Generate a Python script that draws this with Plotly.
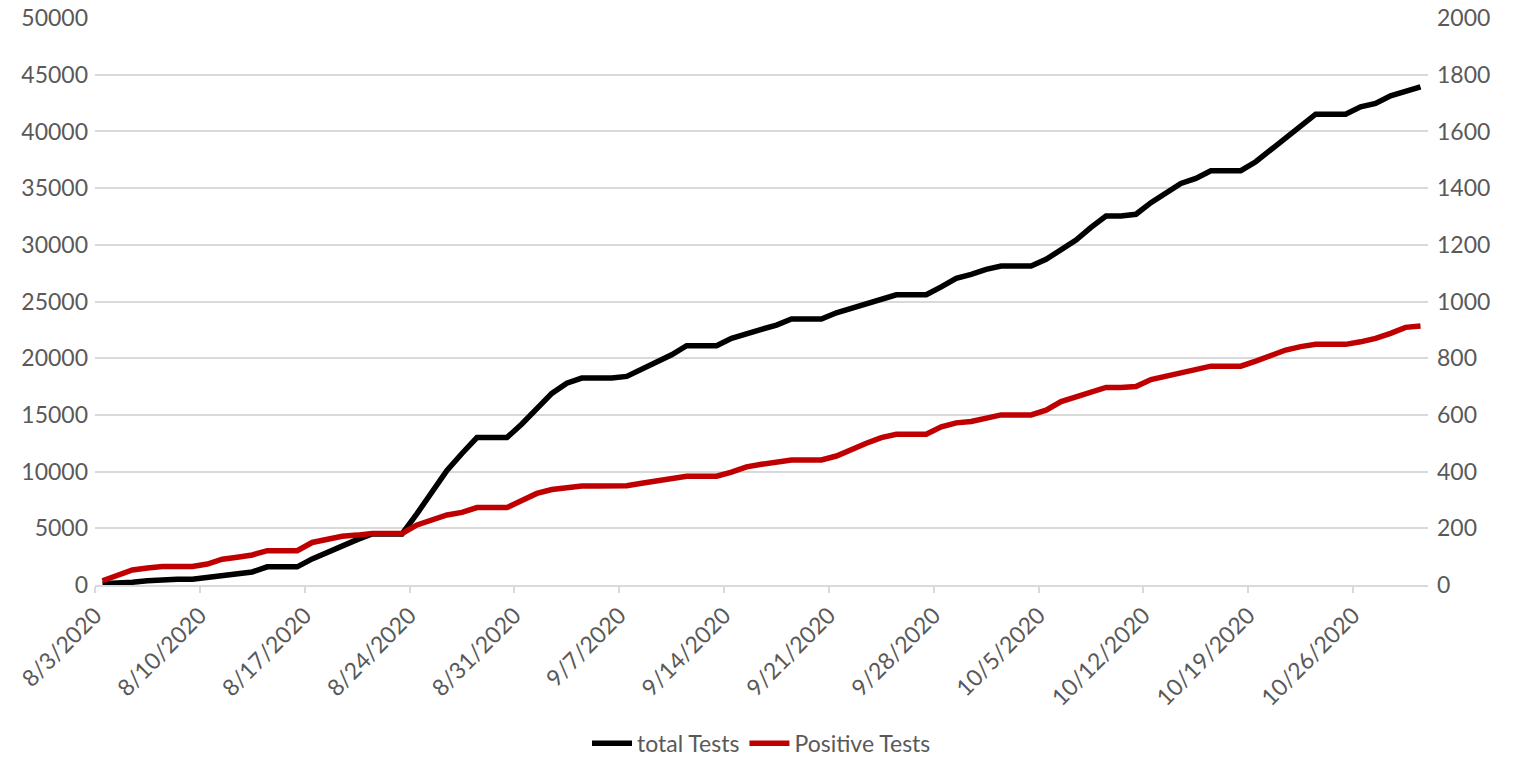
import pandas as pd
import plotly.graph_objects as go

start_date = "2020-08-03"
n_days = 89
dates = pd.date_range(start_date, periods=n_days, freq="D")

total_tests = [
    100, 150, 250, 380, 500, 500, 500,
    650, 800, 880, 1150, 1600, 1600, 1600,
    2300, 2900, 3500, 4000, 4500, 4500, 4500,
    6300, 8200, 10100, 11600, 13000, 13000, 13000,
    14200, 15600, 16900, 17800, 18250, 18250, 18250,
    18400, 19050, 19650, 20300, 21100, 21100, 21100,
    21750, 22100, 22550, 22930, 23460, 23460, 23460,
    24010, 24400, 24840, 25220, 25600, 25600, 25600,
    26300, 27050, 27400, 27840, 28130, 28130, 28130,
    28720, 29540, 30420, 31540, 32540, 32540, 32700,
    33720, 34520, 35420, 35860, 36540, 36540, 36540,
    37330, 38360, 39530, 40560, 41530, 41530, 41530,
    42180, 42470, 43150, 43560, 43940,
]

positive_tests = [
    15, 35, 53, 60, 65, 65, 65,
    74, 91, 98, 106, 121, 121, 121,
    150, 162, 172, 176, 182, 182, 182,
    212, 229, 247, 256, 273, 273, 273,
    298, 323, 337, 345, 349, 349, 349,
    350, 359, 367, 376, 384, 384, 384,
    398, 417, 426, 435, 441, 441, 441,
    455, 479, 500, 520, 532, 532, 532,
    558, 572, 577, 591, 600, 600, 600,
    617, 647, 664, 680, 697, 697, 700,
    725, 737, 750, 762, 772, 772, 772,
    790, 811, 829, 841, 849, 849, 849,
    858, 870, 888, 909, 914,
]

tick_dates = ["2020-08-03", "2020-08-10", "2020-08-17", "2020-08-24", "2020-08-31",
              "2020-09-07", "2020-09-14", "2020-09-21", "2020-09-28", "2020-10-05",
              "2020-10-12", "2020-10-19", "2020-10-26"]
tick_labels = ["8/3/2020", "8/10/2020", "8/17/2020", "8/24/2020", "8/31/2020",
               "9/7/2020", "9/14/2020", "9/21/2020", "9/28/2020", "10/5/2020",
               "10/12/2020", "10/19/2020", "10/26/2020"]
left_ticks = [0, 5000, 10000, 15000, 20000, 25000, 30000, 35000, 40000, 45000, 50000]
right_ticks = [0, 200, 400, 600, 800, 1000, 1200, 1400, 1600, 1800, 2000]

# points drawn in the middle of each day slot (Excel date axis style)
x_pts = dates + pd.Timedelta(hours=12)

FONT = "Lato"
GREY = "#595959"
GRID = "#d9d9d9"
FS = 23

fig = go.Figure()
fig.add_trace(go.Scatter(x=x_pts, y=total_tests, name="total Tests", mode="lines",
                         line=dict(color="#000000", width=5.5), yaxis="y"))
fig.add_trace(go.Scatter(x=x_pts, y=positive_tests, name="Positive Tests", mode="lines",
                         line=dict(color="#C00000", width=5.5), yaxis="y2"))

fig.update_layout(
    width=1513, height=758,
    margin=dict(l=95, r=85, t=18, b=173, autoexpand=False),
    paper_bgcolor="white", plot_bgcolor="white",
    font=dict(family=FONT, size=FS, color=GREY),
    showlegend=True,
    legend=dict(orientation="h", x=0.5, xanchor="center", y=-0.279, yanchor="middle",
                font=dict(family=FONT, size=FS, color=GREY), itemwidth=40,
                tracegroupgap=0),
    xaxis=dict(
        type="date",
        range=["2020-08-03", "2020-10-31"],
        tickvals=tick_dates, ticktext=tick_labels, tickangle=-45,
        showgrid=False, showline=True, linecolor=GRID, linewidth=1.5,
        ticks="outside", ticklen=6, tickcolor=GRID, tickwidth=1.5,
        tickfont=dict(family=FONT, size=FS, color=GREY),
        zeroline=False, automargin=False,
    ),
    yaxis=dict(
        range=[0, 50010], tickmode="array", tickvals=left_ticks, tickformat="d",
        showgrid=True, gridcolor=GRID, gridwidth=1.5,
        zeroline=False, showline=False, ticks="",
        tickfont=dict(family=FONT, size=FS, color=GREY),
        ticklabelstandoff=6, automargin=False, ticklabeloverflow="allow",
    ),
    yaxis2=dict(
        range=[0, 2000.4], tickmode="array", tickvals=right_ticks, tickformat="d",
        overlaying="y", side="right",
        showgrid=False, zeroline=False, showline=False, ticks="",
        tickfont=dict(family=FONT, size=FS, color=GREY),
        ticklabelstandoff=8, automargin=False, ticklabeloverflow="allow",
    ),
)

# remove the browser's default 8px body margin so the figure fills the window
fig.write_html("out.html", config={"displayModeBar": False},
               post_script="document.body.style.margin='0px';")
